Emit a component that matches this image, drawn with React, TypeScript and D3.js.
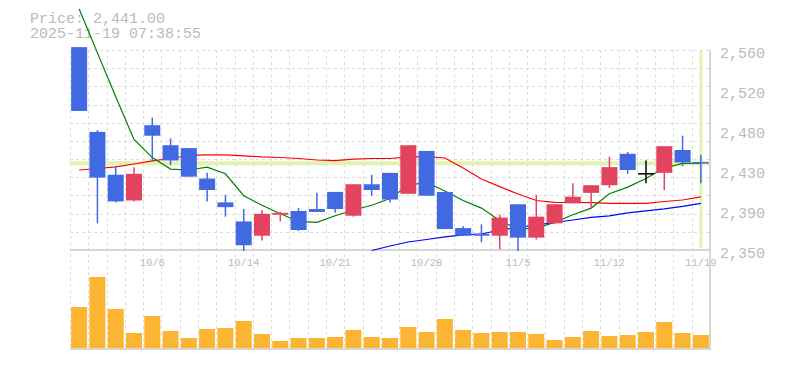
import React, { useEffect, useRef } from 'react'
import * as d3 from 'd3'

// trading days shown (last 35 sessions)
const dates = [
  '9/30', '10/1', '10/2', '10/3', '10/6', '10/7', '10/8', '10/9', '10/10', '10/14',
  '10/15', '10/16', '10/17', '10/20', '10/21', '10/22', '10/23', '10/24', '10/27', '10/28',
  '10/29', '10/30', '10/31', '11/4', '11/5', '11/6', '11/7', '11/10', '11/11', '11/12',
  '11/13', '11/14', '11/17', '11/18', '11/19'
]
const opens = [
  2563, 2474, 2429, 2402, 2481, 2460, 2457, 2425, 2400, 2380,
  2365, 2387, 2391, 2393, 2411, 2386, 2419, 2431, 2409, 2454,
  2411, 2373, 2367, 2365, 2398, 2363, 2378, 2399, 2410, 2418,
  2451, 2430, 2431, 2455, 2442
]
const highs = [
  2563, 2476, 2438, 2437, 2489, 2467, 2457, 2431, 2408, 2393,
  2392, 2390, 2394, 2410, 2411, 2419, 2429, 2431, 2460, 2454,
  2411, 2375, 2377, 2387, 2398, 2408, 2398, 2420, 2418, 2448,
  2453, 2444, 2459, 2470, 2450
]
const lows = [
  2496, 2378, 2400, 2401, 2443, 2439, 2427, 2401, 2385, 2349,
  2360, 2380, 2370, 2390, 2389, 2385, 2407, 2400, 2409, 2407,
  2372, 2365, 2358, 2351, 2349, 2361, 2377, 2399, 2394, 2415,
  2430, 2420, 2413, 2438, 2420
]
const closes = [
  2496, 2426, 2401, 2430, 2470, 2444, 2427, 2413, 2395, 2355,
  2388, 2389, 2371, 2390, 2393, 2419, 2413, 2403, 2460, 2407,
  2372, 2365, 2365, 2384, 2363, 2385, 2398, 2406, 2418, 2437,
  2434, 2430, 2459, 2442, 2441
]
const volumes = [
  427, 740, 406, 156, 333, 177, 104, 198, 208, 281,
  146, 73, 104, 104, 115, 188, 115, 104, 219, 167,
  302, 188, 156, 167, 167, 146, 83, 115, 177, 125,
  135, 167, 271, 156, 135
]
// moving averages
const ma5 = [
  2603, 2557, 2511, 2466, 2447, 2435, 2434, 2437, 2430, 2407,
  2397, 2388, 2380, 2379, 2386, 2392, 2397, 2404, 2418, 2421,
  2412, 2402, 2394, 2381, 2372, 2373, 2379, 2387, 2394, 2409,
  2416, 2425, 2436, 2441, 2441
]
const ma25 = [
  2434, 2435.6, 2437.2, 2440.3, 2443.5, 2446.1, 2449.3, 2449.8, 2449.8, 2448.8,
  2447.7, 2447.1, 2446.1, 2444.5, 2443.9, 2445.5, 2446.1, 2446.1, 2447.7, 2448,
  2446.6, 2436.1, 2424.6, 2416.5, 2408.8, 2402, 2400.1, 2399.9, 2399.7, 2399,
  2399, 2399, 2400.9, 2402.5, 2405.7
]
const ma75: (number | null)[] = [
  null, null, null, null, null, null, null, null, null, null,
  null, null, null, null, null, null, 2349.5, 2354.2, 2358.4, 2361,
  2363.7, 2365.8, 2366.8, 2371, 2373.6, 2376.3, 2378.9, 2381.5, 2384.2, 2385.9,
  2389, 2391.1, 2393.2, 2395.8, 2398.9
]
const priceTicks = [2350, 2392, 2434, 2476, 2518, 2560]
const priceTickLabels = ['2,350', '2,390', '2,430', '2,480', '2,520', '2,560']
const dateTicks = ['10/6', '10/14', '10/21', '10/28', '11/5', '11/12', '11/19']
const lastPrice = 2441
const lastTime = '2025-11-19 07:38:55'

const W = 785
const H = 370

const App: React.FC = () => {
  const svgRef = useRef<SVGSVGElement | null>(null)

  useEffect(() => {
    if (!svgRef.current) return
    const svg = d3.select(svgRef.current)
    svg.selectAll('*').remove()

    const left = 70
    const right = 710
    const priceTop = 50
    const priceBottom = 250
    const volBottom = 349
    const font = '"Liberation Mono", "DejaVu Sans Mono", monospace'
    const textColor = '#bbbbbb'
    const gridColor = '#dddddd'
    const borderColor = '#c8c8c8'
    const upColor = '#e2445f'
    const downColor = '#4169e1'

    const x = d3
      .scaleBand<number>()
      .domain(d3.range(dates.length))
      .range([left, right])
      .paddingInner(0.125)
      .paddingOuter(0.0625)
    const bw = x.bandwidth()
    const step = x.step()
    const cx = (i: number) => (x(i) as number) + bw / 2

    const y = d3.scaleLinear().domain([2350, 2560]).range([priceBottom, priceTop])
    const yVol = d3.scaleLinear().domain([0, 1000]).range([348, 252])

    svg.append('rect').attr('width', W).attr('height', H).attr('fill', '#fff')

    // header
    svg
      .append('text')
      .attr('x', 30)
      .attr('y', 23)
      .attr('font-family', font)
      .attr('font-size', 15)
      .attr('fill', textColor)
      .text(`Price: ${d3.format(',.2f')(lastPrice)}`)
    svg
      .append('text')
      .attr('x', 30)
      .attr('y', 38)
      .attr('font-family', font)
      .attr('font-size', 15)
      .attr('fill', textColor)
      .text(lastTime)

    // grid
    const grid = svg.append('g').attr('stroke', gridColor).attr('stroke-dasharray', '3,3')
    grid
      .selectAll('line.v')
      .data(d3.range(dates.length))
      .join('line')
      .attr('x1', (i) => Math.round(left + i * step) + 0.5)
      .attr('x2', (i) => Math.round(left + i * step) + 0.5)
      .attr('y1', priceTop)
      .attr('y2', volBottom)
    const hGrid = d3.range(12).map((i) => 2350 + (i * 210) / 11)
    grid
      .selectAll('line.h')
      .data(hGrid.slice(1))
      .join('line')
      .attr('x1', left)
      .attr('x2', right)
      .attr('y1', (d) => Math.round(y(d)) + 0.5)
      .attr('y2', (d) => Math.round(y(d)) + 0.5)

    // borders
    const border = svg.append('g').attr('stroke', borderColor).attr('stroke-width', 1.5)
    border.append('line').attr('x1', left).attr('x2', right).attr('y1', priceBottom).attr('y2', priceBottom)
    border.append('line').attr('x1', left).attr('x2', right).attr('y1', volBottom).attr('y2', volBottom)
    border.append('line').attr('x1', right).attr('x2', right).attr('y1', priceTop).attr('y2', volBottom + 1)

    // current price marker lines
    const hl = '#e3f3ae'
    svg
      .append('line')
      .attr('x1', left)
      .attr('x2', right)
      .attr('y1', y(lastPrice))
      .attr('y2', y(lastPrice))
      .attr('stroke', hl)
      .attr('stroke-width', 4)
    svg
      .append('line')
      .attr('x1', cx(dates.length - 1))
      .attr('x2', cx(dates.length - 1))
      .attr('y1', priceTop + 1)
      .attr('y2', priceBottom - 2)
      .attr('stroke', hl)
      .attr('stroke-width', 3)

    // moving averages
    const maLine = d3
      .line<number | null>()
      .defined((d) => d != null)
      .x((_, i) => cx(i))
      .y((d) => y(d as number))
    const mas: [(number | null)[], string][] = [
      [ma75, '#0000ff'],
      [ma25, '#ff0000'],
      [ma5, '#008000']
    ]
    mas.forEach(([data, color]) => {
      svg
        .append('path')
        .attr('d', maLine(data) as string)
        .attr('fill', 'none')
        .attr('stroke', color)
        .attr('stroke-width', 1.2)
    })

    // candles
    const candleColor = (i: number) =>
      closes[i] > opens[i] ? upColor : closes[i] < opens[i] ? downColor : '#000'
    const candles = svg
      .append('g')
      .selectAll('g')
      .data(d3.range(dates.length))
      .join('g')
    candles
      .append('line')
      .attr('x1', (i) => cx(i))
      .attr('x2', (i) => cx(i))
      .attr('y1', (i) => y(highs[i]))
      .attr('y2', (i) => y(lows[i]))
      .attr('stroke', candleColor)
      .attr('stroke-width', 1.5)
    candles
      .append('rect')
      .attr('x', (i) => x(i) as number)
      .attr('width', bw)
      .attr('y', (i) => {
        const top = y(Math.max(opens[i], closes[i]))
        const h = y(Math.min(opens[i], closes[i])) - top
        return h < 1.5 ? top - (1.5 - h) / 2 : top
      })
      .attr('height', (i) => Math.max(1.5, y(Math.min(opens[i], closes[i])) - y(Math.max(opens[i], closes[i]))))
      .attr('fill', candleColor)

    // volume
    svg
      .append('g')
      .selectAll('rect')
      .data(volumes)
      .join('rect')
      .attr('x', (_, i) => x(i) as number)
      .attr('width', bw)
      .attr('y', (d) => yVol(d))
      .attr('height', (d) => yVol(0) - yVol(d))
      .attr('fill', '#fbb533')

    // price axis labels
    svg
      .append('g')
      .selectAll('text')
      .data(priceTicks)
      .join('text')
      .attr('x', 720)
      .attr('y', (d) => y(d) + 7.5)
      .attr('font-family', font)
      .attr('font-size', 15)
      .attr('fill', textColor)
      .text((_, i) => priceTickLabels[i])

    // date labels
    svg
      .append('g')
      .selectAll('text')
      .data(dateTicks)
      .join('text')
      .attr('x', (d) => cx(dates.indexOf(d)))
      .attr('y', 266)
      .attr('text-anchor', 'middle')
      .attr('font-family', font)
      .attr('font-size', 10.5)
      .attr('fill', textColor)
      .text((d) => d)
  }, [])

  return (
    <svg
      ref={svgRef}
      width={W}
      height={H}
      style={{ position: 'absolute', left: 0, top: 0, display: 'block' }}
    />
  )
}

export default App
